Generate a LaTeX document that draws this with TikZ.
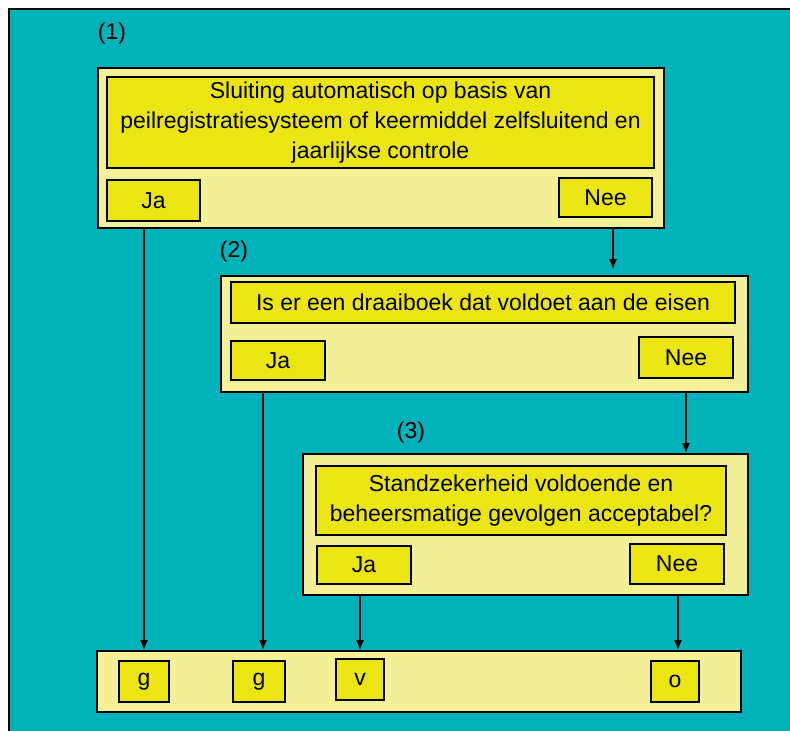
\documentclass[tikz,border=0pt]{standalone}
\usepackage{fontspec}
\setmainfont{Liberation Sans}
\usetikzlibrary{arrows.meta}
\definecolor{teal}{HTML}{00B3BA}
\definecolor{paleyellow}{HTML}{F3F097}
\definecolor{brightyellow}{HTML}{EBE613}
\tikzset{
  panel/.style={draw=black, line width=1.6pt, fill=paleyellow, inner sep=0pt},
  tag/.style={draw=black, line width=1.4pt, fill=brightyellow, inner sep=0pt, align=center,
              font=\fontsize{23}{30}\selectfont},
  caption/.style={inner sep=0pt, font=\fontsize{23}{26}\selectfont},
  arr/.style={line width=1.5pt, -{Latex[length=10pt,width=8pt]}}
}
\begin{document}
\begin{tikzpicture}[x=1pt,y=-1pt]
\useasboundingbox (0,0) rectangle (790,731);
% background
\begin{scope}
\clip (0,0) rectangle (790,731);
\draw[line width=1.4pt, fill=teal] (9,9) rectangle (800,745);
\end{scope}

% block 1
\node[caption] (lab1) at (112,34) {(1)};
\node[panel, minimum width=566, minimum height=160] (box1) at (381,148) {};
\node[tag, minimum width=547, minimum height=91] (q1) at (380.5,122.5)
  {Sluiting automatisch op basis van\\peilregistratiesysteem of keermiddel zelfsluitend en\\jaarlijkse controle};
\node[tag, minimum width=93, minimum height=41] (ja1) at (153.5,200.5) {Ja};
\node[tag, minimum width=93, minimum height=39] (nee1) at (605.5,197.5) {Nee};

% block 2
\node[caption] (lab2) at (234,252) {(2)};
\node[panel, minimum width=527, minimum height=116] (box2) at (484.5,334) {};
\node[tag, minimum width=504, minimum height=41] (q2) at (483,302.5)
  {Is er een draaiboek dat voldoet aan de eisen};
\node[tag, minimum width=94, minimum height=39] (ja2) at (278,360.5) {Ja};
\node[tag, minimum width=94, minimum height=41] (nee2) at (686,357.5) {Nee};

% block 3
\node[caption] (lab3) at (411,433) {(3)};
\node[panel, minimum width=445, minimum height=141] (box3) at (525.5,524.5) {};
\node[tag, minimum width=410, minimum height=69] (q3) at (521,500.5)
  {Standzekerheid voldoende en\\beheersmatige gevolgen acceptabel?};
\node[tag, minimum width=94, minimum height=38] (ja3) at (364,565) {Ja};
\node[tag, minimum width=94, minimum height=40] (nee3) at (677,564) {Nee};

% outcomes
\node[panel, minimum width=644, minimum height=61] (out) at (419,681.5) {};
\node[tag, minimum width=50, minimum height=41] (g1) at (144,681.5) {g};
\node[tag, minimum width=52, minimum height=41] (g2) at (259,681.5) {g};
\node[tag, minimum width=48, minimum height=41] (v) at (360,679.5) {v};
\node[tag, minimum width=48, minimum height=41] (o) at (675,681.5) {o};

% connectors
\coordinate (c1) at (613,0);
\coordinate (c2) at (263,0);
\coordinate (c3) at (678,0);
\draw[arr] (g1 |- box1.south) -- (g1 |- out.north);
\draw[arr] (c1 |- box1.south) -- ([yshift=6]c1 |- box2.north);
\draw[arr] (c2 |- box2.south) -- (c2 |- out.north);
\draw[arr] (nee2 |- box2.south) -- (nee2 |- box3.north);
\draw[arr] (v |- box3.south) -- (v |- out.north);
\draw[arr] (c3 |- box3.south) -- (c3 |- out.north);
\end{tikzpicture}
\end{document}
